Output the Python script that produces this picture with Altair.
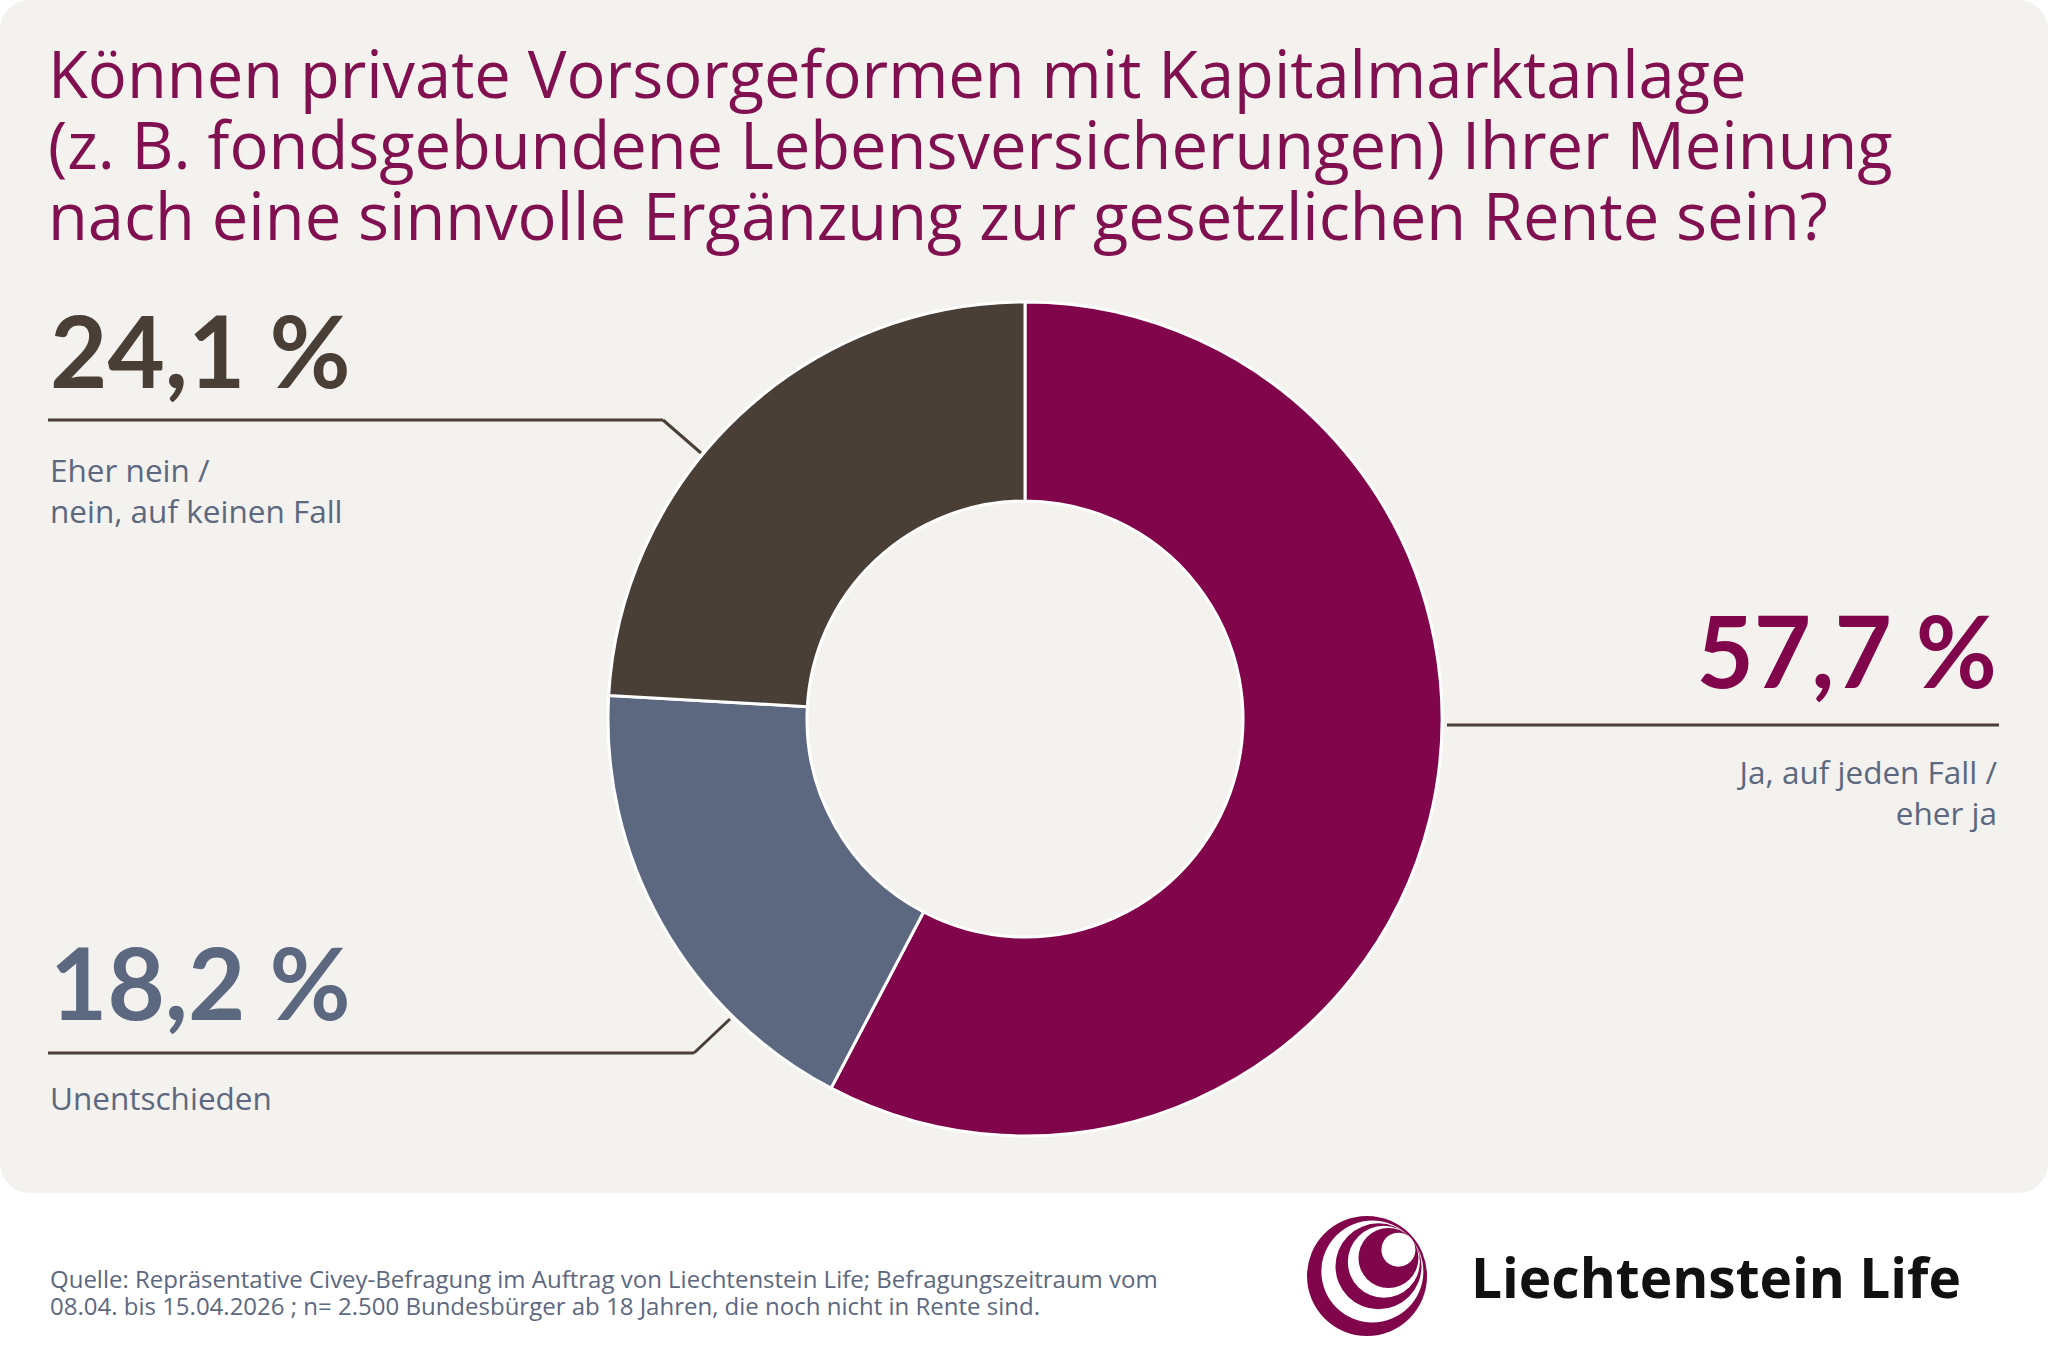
import altair as alt
import pandas as pd
import math

# ---------------- data ----------------
categories = ["Ja, auf jeden Fall / eher ja", "Unentschieden", "Eher nein / nein, auf keinen Fall"]
shares = [57.7, 18.2, 24.1]
share_labels = ["57,7 %", "18,2 %", "24,1 %"]
desc_labels = [["Ja, auf jeden Fall /", "eher ja"], ["Unentschieden"], ["Eher nein /", "nein, auf keinen Fall"]]
colors = ["#80054A", "#5C6880", "#4A3F36"]
title_lines = [
    "Können private Vorsorgeformen mit Kapitalmarktanlage",
    "(z. B. fondsgebundene Lebensversicherungen) Ihrer Meinung",
    "nach eine sinnvolle Ergänzung zur gesetzlichen Rente sein?",
]
source_lines = [
    "Quelle: Repräsentative Civey-Befragung im Auftrag von Liechtenstein Life; Befragungszeitraum vom",
    "08.04. bis 15.04.2026 ; n= 2.500 Bundesbürger ab 18 Jahren, die noch nicht in Rente sind.",
]
brand = "Liechtenstein Life"

# ---------------- layout / style ----------------
W, H = 2048, 1365
CARD = "#F4F2EE"
TITLE_C = "#80104F"
TEXT_C = "#5C6880"
LINE_C = "#4A3F36"
FONT = "Open Sans"
NUM_FONT = "Lato"
CX, CY, R_OUT, R_IN = 1025, 719, 417, 218

layers = []

# card background
layers.append(
    alt.Chart(pd.DataFrame({"k": [0]})).mark_rect(color=CARD, cornerRadius=30).encode(
        x=alt.value(0), x2=alt.value(W), y=alt.value(0), y2=alt.value(1193)
    )
)

# donut
df = pd.DataFrame({"cat": categories, "share": shares, "idx": list(range(len(categories)))})
layers.append(
    alt.Chart(df).mark_arc(radius=R_OUT, radius2=R_IN, stroke="white", strokeWidth=3).encode(
        theta=alt.Theta("share:Q", stack=True),
        color=alt.Color("cat:N", scale=alt.Scale(domain=categories, range=colors), legend=None),
        order=alt.Order("idx:Q"),
        x=alt.value(CX),
        y=alt.value(CY),
    )
)

def text_layer(txt, x, y, size, color, weight="normal", align="left", font=FONT):
    kw = dict(align=align, baseline="alphabetic", font=font, fontSize=size, color=color, fontWeight=weight)
    return alt.Chart(pd.DataFrame({"t": [txt]})).mark_text(**kw).encode(
        text="t:N", x=alt.value(x), y=alt.value(y)
    )

def rule(x1, y1, x2, y2):
    return alt.Chart(pd.DataFrame({"k": [0]})).mark_rule(color=LINE_C, strokeWidth=3).encode(
        x=alt.value(x1), y=alt.value(y1), x2=alt.value(x2), y2=alt.value(y2)
    )

# title (one text per line)
for j, line in enumerate(title_lines):
    layers.append(text_layer(line, 48, 98 + 71 * j, 65, TITLE_C))

# labels: (x, pct baseline, align, desc baseline)
label_pos = [(1997, 688, "right", 784), (50, 1020, "left", 1110), (50, 388, "left", 482)]
for i, (x, yb, al, yd) in enumerate(label_pos):
    layers.append(text_layer(share_labels[i], x, yb, 99, colors[i], weight="bold", align=al, font=NUM_FONT))
    for j, line in enumerate(desc_labels[i]):
        layers.append(text_layer(line, x, yd + 41 * j, 31.5, TEXT_C, align=al))

# leader lines
layers += [
    rule(1447, 725, 1999, 725),
    rule(48, 1053, 694, 1053), rule(694, 1053, 730, 1019),
    rule(48, 420, 663, 420), rule(663, 420, 701, 453),
]

# footer
for j, line in enumerate(source_lines):
    layers.append(text_layer(line, 50, 1288 + 27 * j, 24, TEXT_C))
layers.append(text_layer(brand, 1471, 1298, 55, "#111111", weight="bold"))

# logo: nested circles tangent toward upper right
LX, LY, LR = 1367, 1276, 60
logo_r = [60, 51, 43, 36, 30, 17]
logo_c = ["#80054A", "#FFFFFF", "#80054A", "#FFFFFF", "#80054A", "#FFFFFF"]
ang = math.radians(40)
for r, c in zip(logo_r, logo_c):
    d = LR - r - (0 if r == LR else 2)
    d = max(d, 0)
    x = LX + d * math.cos(ang)
    y = LY - d * math.sin(ang)
    layers.append(
        alt.Chart(pd.DataFrame({"k": [0]})).mark_arc(radius=r, color=c).encode(
            theta=alt.value(2 * math.pi), x=alt.value(x), y=alt.value(y)
        )
    )

chart = alt.layer(*layers).properties(
    width=W, height=H, padding=0, autosize=alt.AutoSizeParams(type="none"), background="white"
).configure_view(stroke=None)

chart.save("out.html", embed_options={"renderer": "svg", "actions": False})
